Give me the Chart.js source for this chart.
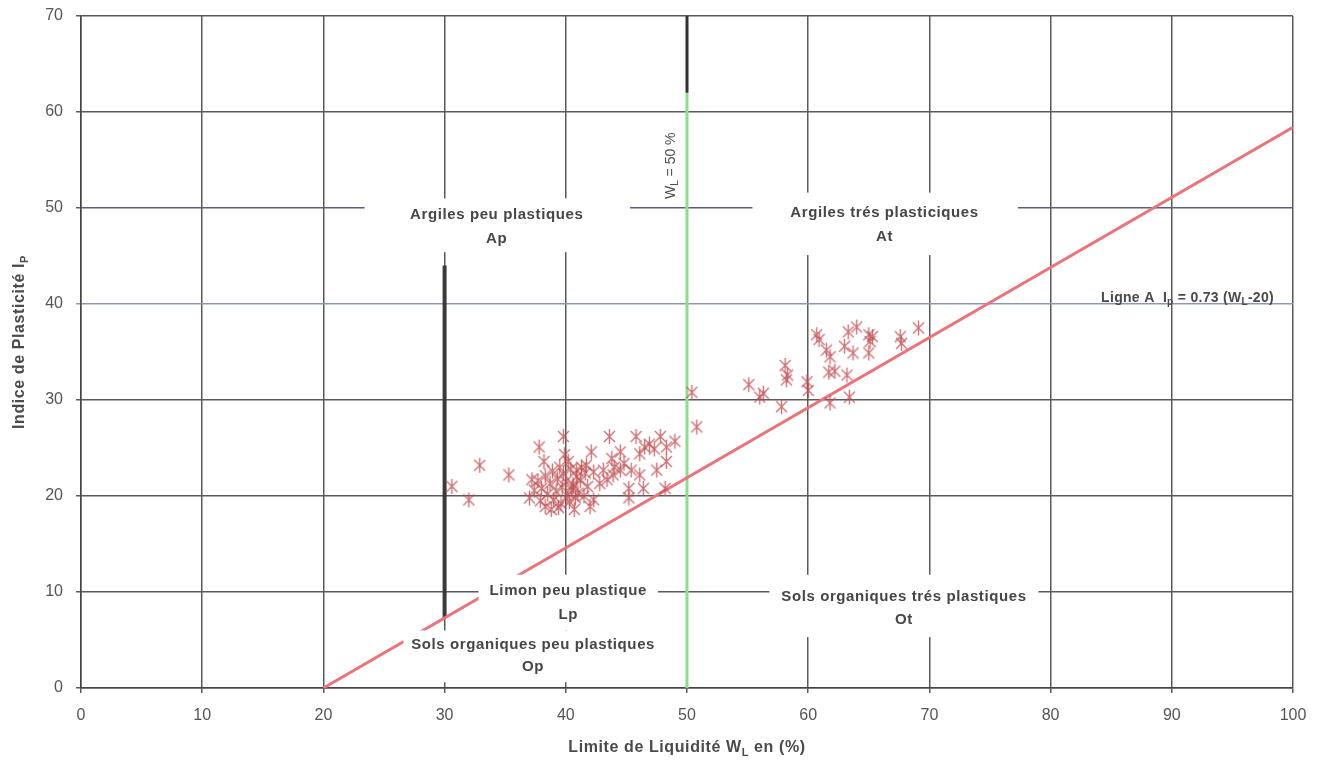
<!DOCTYPE html>
<html>
<head>
<meta charset="utf-8">
<script src="https://cdn.jsdelivr.net/npm/chart.js@4.4.1/dist/chart.umd.min.js"></script>
<style>
html,body{margin:0;padding:0;background:#fff;}
</style>
</head>
<body>
<canvas id="grafico" width="1322" height="762"></canvas>
<script>
// limite de liquidité (x) et indice de plasticité (y) des échantillons
const wl = [30.6,32.0,32.9,35.3,37.8,38.2,39.8,37.2,37.0,38.3,
37.4,37.7,37.9,38.0,38.3,38.5,38.7,38.9,39.0,39.2,39.3,39.5,39.6,39.7,39.8,40.0,40.1,40.2,40.3,40.4,40.5,40.6,40.8,40.9,41.0,41.2,41.3,41.5,41.6,41.8,38.8,39.4,40.7,39.9,40.6,41.7,40.9,
42.1,43.6,44.5,45.8,47.8,49.0,46.5,46.1,46.9,47.3,48.3,43.8,48.3,47.5,45.4,44.5,46.1,43.1,42.3,43.4,45.2,46.4,48.2,45.2,42.3,42.0,44.0,44.8,42.8,43.9,
50.8,50.4,55.1,56.0,56.3,57.8,58.1,58.3,58.2,59.9,60.0,60.7,60.9,61.5,61.8,61.7,62.2,61.8,63.0,63.2,63.3,63.7,64.0,63.4,65.0,65.1,65.3,65.0,67.6,67.7,69.1];
const ip = [21.0,19.6,23.2,22.2,25.1,23.6,26.2,21.7,19.8,18.9,
20.6,21.6,19.5,20.8,22.1,20.2,21.3,22.6,19.6,20.5,21.8,23.0,19.2,20.9,22.3,21.5,20.0,23.6,19.4,22.8,20.6,21.2,19.8,22.0,20.3,21.6,23.0,20.0,22.4,21.0,18.6,18.8,18.6,24.3,21.0,23.2,22.7,
24.6,26.2,24.6,26.2,26.2,25.7,25.1,24.4,25.4,24.9,25.1,23.9,23.6,22.7,22.7,22.7,22.2,22.7,22.5,21.7,20.8,20.8,20.8,19.8,19.6,18.9,23.0,23.4,21.3,22.2,
27.2,30.8,31.6,30.3,30.7,29.3,33.6,32.6,32.1,31.9,31.0,36.8,36.3,35.2,34.5,32.9,33.0,29.7,35.6,32.6,37.1,34.9,37.6,30.3,36.8,36.1,36.6,34.9,36.6,35.9,37.5];

// ligne A : Ip = 0.73 (WL - 20)
const ligneAx = [20, 100];
const ligneAy = [0, 58.4];
// WL = 50 %
const limite50x = [50, 50];
const limite50y = [0, 62];
const haut50y = [62, 70];
// séparation limon / sols organiques à WL = 30
const limite30x = [30, 30];
const limite30y = [7.3, 44];

const xTicks = [0,10,20,30,40,50,60,70,80,90,100];
const yTicks = [0,10,20,30,40,50,60,70];

const zones = [
  {lignes:["Argiles peu plastiques","Ap"], x:34.3, y:[49.3,46.8], boite:[23.4,45.3,51.0,45.4]},
  {lignes:["Argiles trés plasticiques","At"], x:66.3, y:[49.5,47.0], boite:[55.4,77.3,51.6,45.1]},
  {lignes:["Limon peu plastique","Lp"], x:40.2, y:[10.1,7.6], boite:[32.8,47.6,11.8,6.0]},
  {lignes:["Sols organiques peu plastiques","Op"], x:37.3, y:[4.5,2.2], boite:[26.6,47.8,6.0,0.6]},
  {lignes:["Sols organiques trés plastiques","Ot"], x:67.9, y:[9.5,7.1], boite:[56.8,79.0,11.8,5.3]}
];

const POLICE = "'Liberation Sans', Arial, sans-serif";

function paires(xs, ys){
  return xs.map((v, i) => ({x: v, y: ys[i]}));
}

function asterisco(){
  const c = document.createElement("canvas");
  c.width = 15; c.height = 17;
  const g = c.getContext("2d");
  g.strokeStyle = "rgba(190,80,85,0.8)";
  g.lineWidth = 1.4;
  g.beginPath();
  g.moveTo(7.5,1); g.lineTo(7.5,16);
  g.moveTo(2,3); g.lineTo(13,14);
  g.moveTo(13,3); g.lineTo(2,14);
  g.stroke();
  return c;
}

// texte avec indices
function texteIndice(ctx, morceaux, x, y, gras, taille, espace){
  const pol = s => (gras ? "bold " : "") + s + "px " + POLICE;
  ctx.letterSpacing = (espace || 0) + "px";
  let total = 0;
  morceaux.forEach(m => {
    ctx.font = pol(m[1] ? Math.round(taille*0.7) : taille);
    total += ctx.measureText(m[0]).width;
  });
  let cx = x - total/2;
  ctx.textAlign = "left";
  morceaux.forEach(m => {
    ctx.font = pol(m[1] ? Math.round(taille*0.7) : taille);
    ctx.fillText(m[0], cx, m[1] ? y + taille*0.3 : y);
    cx += ctx.measureText(m[0]).width;
  });
  ctx.letterSpacing = "0px";
}

const etiquettes = {
  id: "etiquettes",
  afterDatasetsDraw(chart){
    const ctx = chart.ctx;
    const sx = chart.scales.x, sy = chart.scales.y;
    ctx.save();
    ctx.textBaseline = "middle";
    zones.forEach(z => {
      const x0 = sx.getPixelForValue(z.boite[0]), x1 = sx.getPixelForValue(z.boite[1]);
      const y0 = sy.getPixelForValue(z.boite[2]), y1 = sy.getPixelForValue(z.boite[3]);
      ctx.fillStyle = "#ffffff";
      ctx.fillRect(x0, y0, x1 - x0, y1 - y0);
      ctx.fillStyle = "#464646";
      z.lignes.forEach((t, i) => {
        texteIndice(ctx, [[t,0]], sx.getPixelForValue(z.x), sy.getPixelForValue(z.y[i]), true, 15, 0.6);
      });
    });

    // légende de la ligne A
    ctx.fillStyle = "#4a4a4a";
    texteIndice(ctx, [["Ligne A  I",0],["p",1],[" = 0.73 (W",0],["L",1],["-20)",0]],
      sx.getPixelForValue(91.3), sy.getPixelForValue(40.6), true, 14, 0.3);

    // WL = 50 %
    ctx.save();
    ctx.translate(sx.getPixelForValue(48.7), sy.getPixelForValue(54.4));
    ctx.rotate(-Math.PI/2);
    ctx.fillStyle = "#505050";
    texteIndice(ctx, [["W",0],["L",1],[" = 50 %",0]], 0, 0, false, 14, 0);
    ctx.restore();

    // titres des axes
    ctx.fillStyle = "#4a4a4a";
    texteIndice(ctx, [["Limite de Liquidité W",0],["L",1],[" en (%)",0]],
      (chart.chartArea.left + chart.chartArea.right)/2, 748, true, 16, 0.6);
    ctx.save();
    ctx.translate(20, 342);
    ctx.rotate(-Math.PI/2);
    texteIndice(ctx, [["Indice de Plasticité I",0],["P",1]], 0, 0, true, 16, 0.6);
    ctx.restore();
    ctx.restore();
  }
};

function couleurGrille(c){
  if(c.tick && c.tick.value === 40) return "#8a97b5";
  if(c.tick && c.tick.value === 50) return "#56607e";
  return "#5a5a5a";
}

const config = {
  type: "scatter",
  data: {
    datasets: [
      {
        label: "Échantillons",
        data: paires(wl, ip),
        pointStyle: asterisco(),
        pointRadius: 7,
        pointHoverRadius: 7
      },
      {
        type: "line",
        label: "Ligne A",
        data: paires(ligneAx, ligneAy),
        borderColor: "#e8747c",
        borderWidth: 3,
        pointRadius: 0,
        fill: false
      },
      {
        type: "line",
        label: "WL = 50 %",
        data: paires(limite50x, limite50y),
        borderColor: "#8fdc8f",
        borderWidth: 3,
        pointRadius: 0,
        fill: false
      },
      {
        type: "line",
        label: "WL = 50 % haut",
        data: paires(limite50x, haut50y),
        borderColor: "#333333",
        borderWidth: 3,
        pointRadius: 0,
        fill: false
      },
      {
        type: "line",
        label: "WL = 30 %",
        data: paires(limite30x, limite30y),
        borderColor: "#3a3a3a",
        borderWidth: 4,
        pointRadius: 0,
        fill: false
      }
    ]
  },
  options: {
    responsive: false,
    animation: false,
    layout: {padding: {top: 16, right: 29, left: 0, bottom: 0}},
    plugins: {
      legend: {display: false},
      tooltip: {enabled: false}
    },
    scales: {
      x: {
        type: "linear",
        min: 0, max: 100,
        afterBuildTicks: s => { s.ticks = xTicks.map(v => ({value: v})); },
        afterFit: s => { s.height = 74; },
        ticks: {color: "#555", font: {size: 16, family: POLICE}, padding: 13, maxRotation: 0},
        grid: {color: "#5a5a5a", lineWidth: 1.5, tickLength: 5},
        border: {color: "#444", width: 1.5}
      },
      y: {
        type: "linear",
        min: 0, max: 70,
        afterBuildTicks: s => { s.ticks = yTicks.map(v => ({value: v})); },
        afterFit: s => { s.width = 81; },
        ticks: {color: "#555", font: {size: 16, family: POLICE}, padding: 0},
        grid: {color: couleurGrille, lineWidth: 1.5, tickLength: 18, tickBorderDash: [0, 13, 5, 0]},
        border: {color: "#444", width: 1.5}
      }
    }
  },
  plugins: [etiquettes]
};

const ctx = document.getElementById("grafico");
const chart = new Chart(ctx, config);
</script>
</body>
</html>
